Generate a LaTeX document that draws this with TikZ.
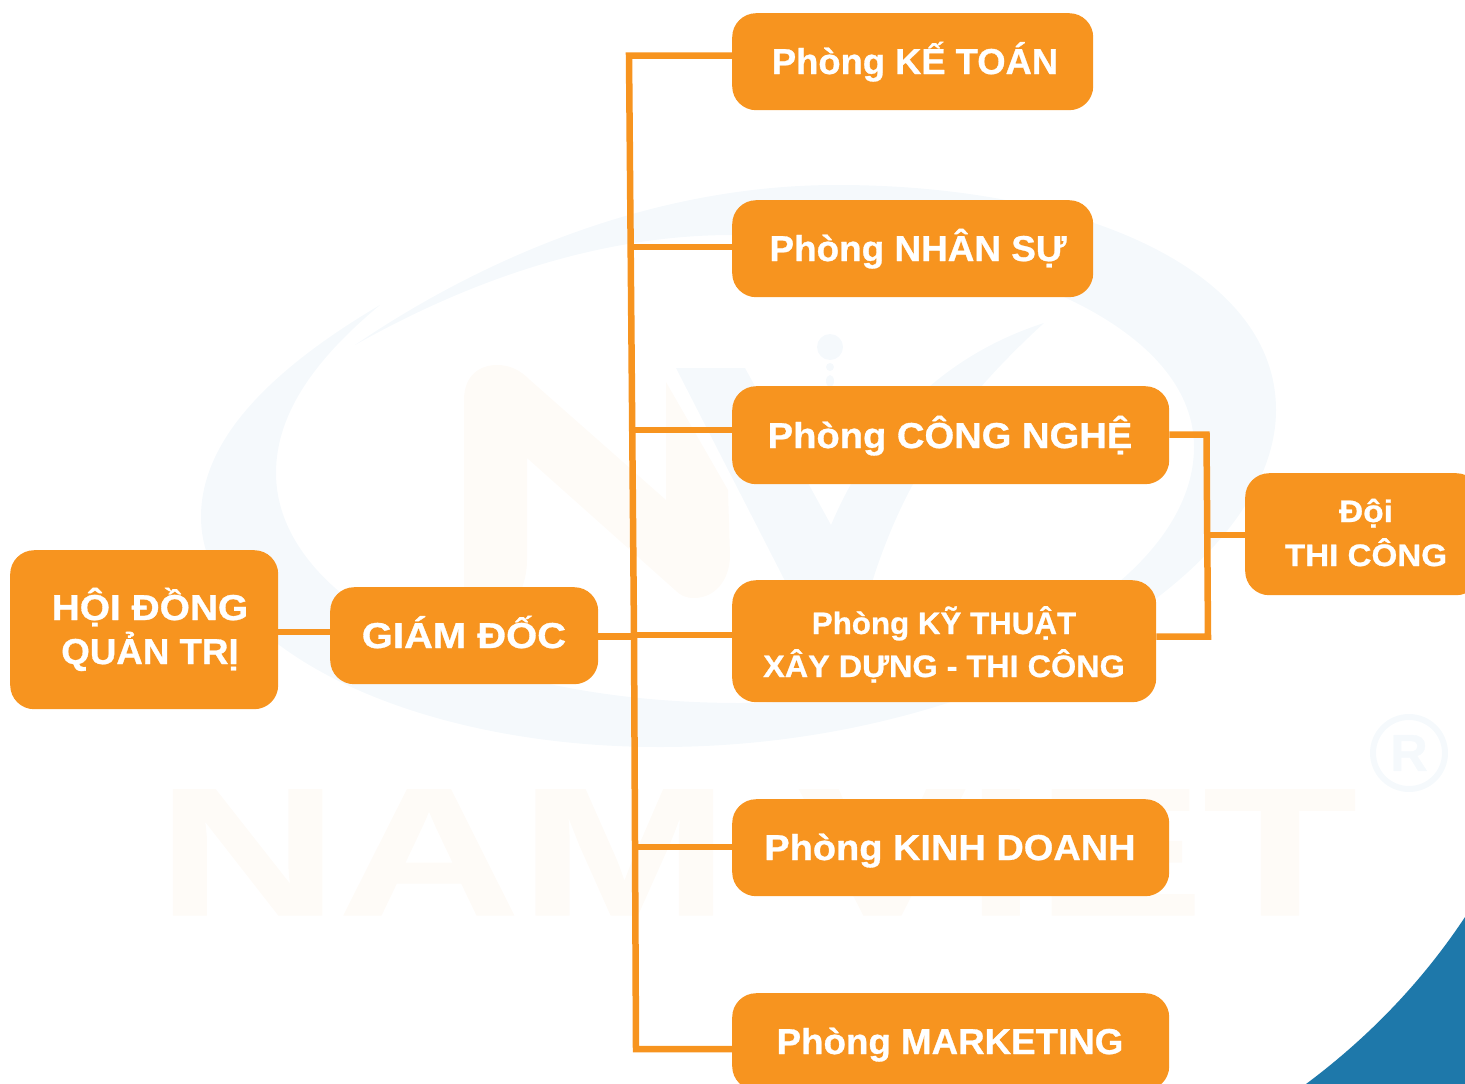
\documentclass[tikz,border=0pt]{standalone}
\usepackage{fontspec}
\setmainfont[BoldFeatures={FakeBold=0.8}]{Liberation Sans}
\definecolor{orangeb}{HTML}{F7941F}
\definecolor{wmblue}{HTML}{F5F9FC}
\definecolor{wmcream}{HTML}{FEFBF7}
\definecolor{cornerblue}{HTML}{1E78AA}
\tikzset{
  orgbox/.style={fill=orangeb,draw=none,rounded corners=24pt,inner sep=0pt,anchor=north west},
  boxtext/.style={text=white,font=\fontsize{#1}{#1}\selectfont\bfseries,align=center,inner sep=0pt,anchor=base},
  conn/.style={draw=orangeb,line width=6.5pt,line join=miter}
}
\begin{document}
\begin{tikzpicture}[x=1pt,y=-1pt]
\useasboundingbox (0,0) rectangle (1465,1084);
\clip (0,0) rectangle (1465,1084);
% watermark
\fill[wmblue] (380,305) .. controls (270,370) and (201,440) .. (201,517) .. controls (201,640) and (400,747) .. (660,747) .. controls (1000,747) and (1276,570) .. (1276,410) .. controls (1276,270) and (1080,185) .. (837,185) .. controls (650,185) and (480,260) .. (355,345) .. controls (470,280) and (600,235) .. (732,235) .. controls (980,235) and (1194,320) .. (1194,447) .. controls (1194,580) and (980,703) .. (740,703) .. controls (470,703) and (276,600) .. (276,473) .. controls (276,410) and (320,355) .. (380,305) -- cycle;
\fill[wmblue] (676,368) -- (745,368) -- (831,525) .. controls (880,410) and (960,350) .. (1044,323) .. controls (960,400) and (910,470) .. (876,570) -- (860,620) -- (805,620) -- cycle;
\fill[wmblue] (830,347) circle (13);
\fill[wmblue] (830,367) circle (4);
\fill[wmblue] (830,381) ellipse (4 and 6);
\fill[wmcream] (464,610) -- (464,400) .. controls (464,375) and (480,365) .. (497,365) .. controls (510,365) and (520,370) .. (530,380) -- (666,500) -- (666,382) -- (728,490) -- (730,555) .. controls (730,580) and (715,598) .. (694,598) .. controls (685,598) and (680,595) .. (675,590) -- (527,458) -- (527,560) .. controls (527,585) and (515,610) .. (500,610) -- cycle;
\node[inner sep=0pt,text=wmcream,anchor=base,font=\fontsize{182}{182}\selectfont\bfseries,xscale=1.38] (wmtext) at (757,915) {NAM VIET};
\node[circle,draw=wmblue,line width=6pt,minimum size=72pt,inner sep=0pt,text=wmblue,font=\fontsize{52}{52}\selectfont\bfseries] (wmreg) at (1409,753) {R};
\fill[cornerblue] (1306,1084) .. controls (1365,1040) and (1420,985) .. (1465,917) -- (1465,1084) -- cycle;
% boxes
\node[orgbox,minimum width=268pt,minimum height=159pt] (hdqt) at (10,550) {};
\node[orgbox,minimum width=268pt,minimum height=97pt] (gd) at (330,587) {};
\node[orgbox,minimum width=361pt,minimum height=97pt] (kt) at (732,13) {};
\node[orgbox,minimum width=361pt,minimum height=97pt] (ns) at (732,200) {};
\node[orgbox,minimum width=437pt,minimum height=98pt] (cn) at (732,386) {};
\node[orgbox,minimum width=424pt,minimum height=122pt] (xd) at (732,580) {};
\node[orgbox,minimum width=437pt,minimum height=97pt] (kd) at (732,799) {};
\node[orgbox,minimum width=437pt,minimum height=97pt] (mk) at (732,993) {};
\node[orgbox,minimum width=235pt,minimum height=122pt] (tc) at (1245,473) {};
% texts
\node[boxtext=36,xscale=1.08] (t1a) at (150,620) {HỘI ĐỒNG};
\node[boxtext=36,xscale=1.02] (t1b) at (150,664) {QUẢN TRỊ};
\node[boxtext=36,xscale=1.11] (t2) at (464,648) {GIÁM ĐỐC};
\node[boxtext=36,xscale=1.01] (t3) at (915,74) {Phòng KẾ TOÁN};
\node[boxtext=36,xscale=1.025] (t4) at (918,261) {Phòng NHÂN SỰ};
\node[boxtext=36,xscale=1.06] (t5) at (950,448) {Phòng CÔNG NGHỆ};
\node[boxtext=31,xscale=1.01] (t6a) at (944,634) {Phòng KỸ THUẬT};
\node[boxtext=31,xscale=1.045] (t6b) at (944,677) {XÂY DỰNG - THI CÔNG};
\node[boxtext=36,xscale=1.055] (t7) at (950,860) {Phòng KINH DOANH};
\node[boxtext=36,xscale=1.02] (t8) at (950,1054) {Phòng MARKETING};
\node[boxtext=31,xscale=1.08] (t9a) at (1366,522) {Đội};
\node[boxtext=31,xscale=1.07] (t9b) at (1366,566) {THI CÔNG};
% connector coordinates
\coordinate (bustop) at (629,55.5);
\coordinate (busbot) at (636,1049);
\coordinate (b1) at (632,247);
\coordinate (b2) at (633,430);
\coordinate (b3) at (634,635);
\coordinate (b4) at (635,847);
\coordinate (rtop) at (1206.5,434.5);
\coordinate (rbot) at (1208,636.5);
\coordinate (rmid) at (1207,535);
\coordinate (gdout) at (598,636.5);
% connectors
\draw[conn] (kt.west |- bustop) -- (bustop) -- (b3) -- (busbot) -- (mk.west |- busbot);
\draw[conn] (b1) -- (ns.west |- b1);
\draw[conn] (b2) -- (cn.west |- b2);
\draw[conn] (gdout) -- (gdout -| b3);
\draw[conn] (b3) -- (xd.west |- b3);
\draw[conn] (b4) -- (kd.west |- b4);
\draw[conn] (hdqt.east |- 0,632) -- (gd.west |- 0,632);
\draw[conn] (cn.east |- rtop) -- (rtop) -- (rbot) -- (xd.east |- rbot);
\draw[conn] (rmid) -- (tc.west |- rmid);
\end{tikzpicture}
\end{document}
